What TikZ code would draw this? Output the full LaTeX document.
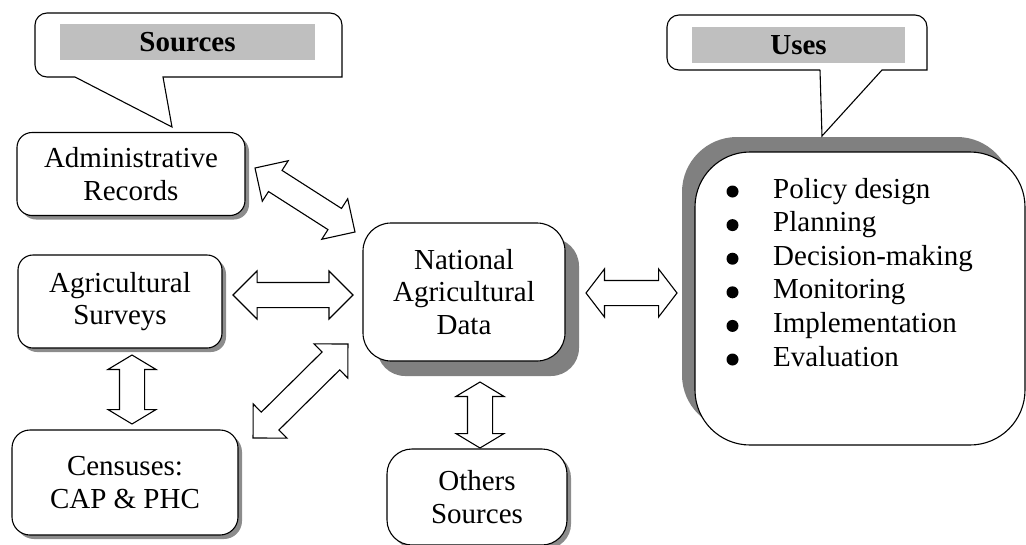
\documentclass[tikz,border=0pt]{standalone}
\usepackage{fontspec}
\setmainfont{Liberation Serif}
\usetikzlibrary{shapes.arrows,shadows,calc}

% hollow two-headed arrow laid between two points
\newcommand{\twoway}[4][]{%
  \path let \p1=($(#4)-(#3)$) in
    node[twoarrow, #1, minimum height={veclen(\x1,\y1)}, rotate={atan2(\y1,\x1)}] (#2)
    at ($(#3)!0.5!(#4)$) {};}

\begin{document}
\begin{tikzpicture}[
  x=1pt, y=-1pt,
  box/.style={draw, fill=white, line width=1.1pt, rounded corners=15pt, align=center, font=\fontsize{29}{32.5}\selectfont},
  srcbox/.style={box, drop shadow={shadow xshift=4pt, shadow yshift=-4pt, fill=black!45, opacity=1}},
  tag/.style={fill=gray!50, inner sep=0pt, font=\fontsize{29}{32}\selectfont\bfseries},
  callout/.style={draw, fill=white, line width=1.1pt},
  twoarrow/.style={double arrow, draw, fill=white, line width=1.1pt, inner sep=0pt, inner ysep=12pt,
    double arrow head extend=11.5pt, double arrow tip angle=90, double arrow head indent=0pt}
]
\useasboundingbox (0,0) rectangle (1026,544);

% Sources
\node[srcbox, minimum width=228, minimum height=83] (admin) at (131,174) {Administrative\\Records};
\node[srcbox, minimum width=204, minimum height=93] (surv) at (120,301.5) {Agricultural\\Surveys};
\node[srcbox, rounded corners=18pt, minimum width=226, minimum height=105] (cens) at (125,482.5) {Censuses:\\CAP \& PHC};
\node[srcbox, rounded corners=25pt, minimum width=180, minimum height=96] (other) at (477,497) {Others\\Sources};

% Central data
\node[box, rounded corners=28pt, minimum width=202, minimum height=138,
  drop shadow={shadow xshift=14pt, shadow yshift=-15pt, fill=gray, opacity=1}] (nad) at (464,292) {National\\Agricultural\\Data};

% Uses
\node[box, rounded corners=55pt, minimum width=330, minimum height=293,
  drop shadow={shadow xshift=-13pt, shadow yshift=15pt, fill=gray, opacity=1}] (usebox) at (860,298.5) {};
\node[anchor=base west, inner sep=0pt, font=\fontsize{29}{33.6}\selectfont] (uselist) at (773,198) {%
  \begin{tabular}[t]{@{}l@{}}
  Policy design\\
  Planning\\
  Decision-making\\
  Monitoring\\
  Implementation\\
  Evaluation
  \end{tabular}};
\foreach \i in {0,...,5}
  \fill (732.5,{191.5+33.6*\i}) circle (6);

% Callouts
\draw[callout] (75,77) -- (172,127) -- (163,77) -- (342,77) [rounded corners=12pt] -- (342,13) -- (35,13) -- (35,77) -- (75,77);
\node[tag, minimum width=255, minimum height=36] (srctag) at (187.5,42) {Sources};
\draw[callout] (820,70) -- (822,136) -- (882,70) -- (927,70) [rounded corners=12pt] -- (927,15) -- (667,15) -- (667,70) -- (820,70);
\node[tag, minimum width=213, minimum height=36] (usetag) at (798.5,45) {Uses};

% Arrow ends
\coordinate (adm-a) at (255,168);  \coordinate (adm-b) at (355,232);
\coordinate (srv-a) at (233,295);  \coordinate (srv-b) at (353,295);
\coordinate (cen-a) at (253,438);  \coordinate (cen-b) at (348,344);
\coordinate (use-a) at (586,293);  \coordinate (use-b) at (677,293);
\coordinate (sc-a) at (132,355);   \coordinate (sc-b) at (132,424);
\coordinate (oth-a) at (480,382);  \coordinate (oth-b) at (480,448);

% Arrows
\twoway{ar1}{adm-a}{adm-b}
\twoway{ar2}{srv-a}{srv-b}
\twoway{ar3}{cen-a}{cen-b}
\twoway[double arrow tip angle=105]{ar4}{use-a}{use-b}
\twoway[double arrow tip angle=118]{ar5}{sc-a}{sc-b}
\twoway[double arrow tip angle=118]{ar6}{oth-a}{oth-b}

\end{tikzpicture}
\end{document}
